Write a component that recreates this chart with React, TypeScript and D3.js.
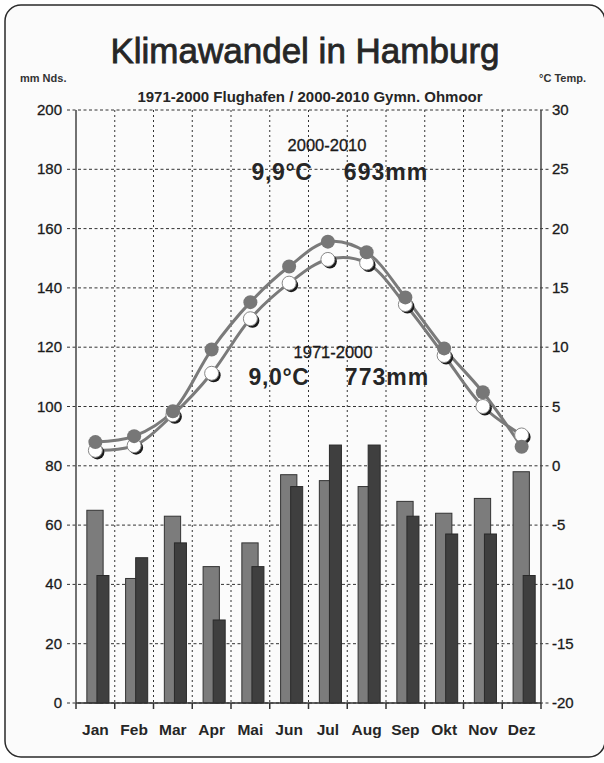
import React from 'react';
import * as d3 from 'd3';

const months = ['Jan', 'Feb', 'Mar', 'Apr', 'Mai', 'Jun', 'Jul', 'Aug', 'Sep', 'Okt', 'Nov', 'Dez'];
// Niederschlag (mm)
const precip7100 = [65, 42, 63, 46, 54, 77, 75, 73, 68, 64, 69, 78];
const precip0010 = [43, 49, 54, 28, 46, 73, 87, 87, 63, 57, 57, 43];
// Temperatur (°C)
const temp7100 = [1.3, 1.7, 4.3, 7.8, 12.4, 15.4, 17.4, 17.1, 13.6, 9.3, 5.0, 2.6];
const temp0010 = [2.0, 2.5, 4.6, 9.8, 13.8, 16.8, 18.9, 18.0, 14.2, 9.9, 6.2, 1.6];
const mmTicks = [0, 20, 40, 60, 80, 100, 120, 140, 160, 180, 200];
const tempTicks = [-20, -15, -10, -5, 0, 5, 10, 15, 20, 25, 30];

const W = 604;
const H = 763;
const left = 76;
const right = 541;
const top = 110;
const bottom = 703;
const font = '"Liberation Sans", Arial, sans-serif';

export default function App() {
    const x = d3.scaleBand<string>().domain(months).range([left, right]);
    const bw = x.bandwidth();
    const yMm = d3.scaleLinear().domain([0, 200]).range([bottom, top]);
    const yT = d3.scaleLinear().domain([-20, 30]).range([bottom, top]);
    const cx = (m: string) => (x(m) as number) + bw / 2;

    const line = d3.line<number>()
        .x((_, i) => cx(months[i]))
        .y((d) => yT(d))
        .curve(d3.curveCatmullRom.alpha(0.5));

    const boundaries = d3.range(months.length + 1).map((i) => left + i * bw);

    return (
        <svg width={W} height={H} style={{ position: 'absolute', left: 0, top: 0, background: '#fff' }} fontFamily={font}>
            <rect x={5} y={5} width={600} height={752} rx={16} fill="#fbfbfb" stroke="#2a2a2a" strokeWidth={1.5} />

            <text x={305} y={63} textAnchor="middle" fontSize={35} fill="#262626" stroke="#262626" strokeWidth={0.8}>Klimawandel in Hamburg</text>
            <text x={20} y={82} fontSize={11} fontWeight="bold" fill="#333">mm Nds.</text>
            <text x={586} y={82} textAnchor="end" fontSize={11} fontWeight="bold" fill="#333">°C Temp.</text>
            <text x={310} y={102} textAnchor="middle" fontSize={15} fontWeight="bold" fill="#262626">1971-2000 Flughafen / 2000-2010 Gymn. Ohmoor</text>

            {/* horizontal grid */}
            {mmTicks.map((t) => (
                <line key={'h' + t} x1={left - 9} x2={right + 9} y1={yMm(t)} y2={yMm(t)}
                    stroke="#333" strokeWidth={1} strokeDasharray="3,2.5" />
            ))}
            {/* vertical grid */}
            {boundaries.slice(1, -1).map((b, i) => (
                <line key={'v' + i} x1={b} x2={b} y1={top} y2={bottom} stroke="#333" strokeWidth={1} strokeDasharray="2,3" />
            ))}

            {/* bars */}
            {months.map((m, i) => (
                <g key={'b' + m}>
                    <rect x={(x(m) as number) + bw * 0.28} y={yMm(precip7100[i])} width={bw * 0.42}
                        height={bottom - yMm(precip7100[i])} fill="#7c7c7c" stroke="#333" strokeWidth={1} />
                    <rect x={(x(m) as number) + bw * 0.54} y={yMm(precip0010[i])} width={bw * 0.31}
                        height={bottom - yMm(precip0010[i])} fill="#3f3f3f" stroke="#2a2a2a" strokeWidth={1} />
                </g>
            ))}

            {/* axes */}
            <line x1={left} x2={left} y1={top} y2={bottom} stroke="#444" strokeWidth={1.5} />
            <line x1={right} x2={right} y1={top} y2={bottom} stroke="#444" strokeWidth={1.5} />
            <line x1={left} x2={right} y1={bottom} y2={bottom} stroke="#333" strokeWidth={1.5} />
            {boundaries.map((b, i) => (
                <line key={'t' + i} x1={b} x2={b} y1={bottom} y2={bottom + 6} stroke="#333" strokeWidth={1.5} />
            ))}
            {mmTicks.map((t) => (
                <text key={'l' + t} x={62} y={yMm(t) + 5} textAnchor="end" fontSize={15} fill="#1a1a1a" stroke="#1a1a1a" strokeWidth={0.3}>{t}</text>
            ))}
            {tempTicks.map((t) => (
                <text key={'r' + t} x={552} y={yT(t) + 5} fontSize={15} fill="#1a1a1a" stroke="#1a1a1a" strokeWidth={0.3}>{t}</text>
            ))}
            {months.map((m) => (
                <text key={'m' + m} x={cx(m)} y={735} textAnchor="middle" fontSize={15.5} fontWeight="bold" fill="#262626">{m}</text>
            ))}

            {/* temperature lines */}
            <path d={line(temp7100) || ''} fill="none" stroke="#7a7a7a" strokeWidth={3} />
            <path d={line(temp0010) || ''} fill="none" stroke="#7a7a7a" strokeWidth={3} />
            {temp7100.map((t, i) => (
                <g key={'w' + i}>
                    <circle cx={cx(months[i]) + 2} cy={yT(t) + 2} r={7} fill="#1a1a1a" />
                    <circle cx={cx(months[i])} cy={yT(t)} r={7} fill="#fff" stroke="#888" strokeWidth={1} />
                </g>
            ))}
            {temp0010.map((t, i) => (
                <circle key={'f' + i} cx={cx(months[i])} cy={yT(t)} r={7} fill="#777" />
            ))}

            {/* annotations */}
            <text x={327} y={151} textAnchor="middle" fontSize={16.5} fill="#1a1a1a" stroke="#1a1a1a" strokeWidth={0.3}>2000-2010</text>
            <text x={282} y={180} textAnchor="middle" fontSize={23} fontWeight="bold" letterSpacing={0.6} fill="#262626">9,9°C</text>
            <text x={386} y={180} textAnchor="middle" fontSize={23} fontWeight="bold" letterSpacing={1} fill="#262626">693mm</text>
            <text x={333} y={358} textAnchor="middle" fontSize={16.5} fill="#1a1a1a" stroke="#1a1a1a" strokeWidth={0.3}>1971-2000</text>
            <text x={279} y={385} textAnchor="middle" fontSize={23} fontWeight="bold" letterSpacing={0.6} fill="#262626">9,0°C</text>
            <text x={387} y={385} textAnchor="middle" fontSize={23} fontWeight="bold" letterSpacing={1} fill="#262626">773mm</text>
        </svg>
    );
}
